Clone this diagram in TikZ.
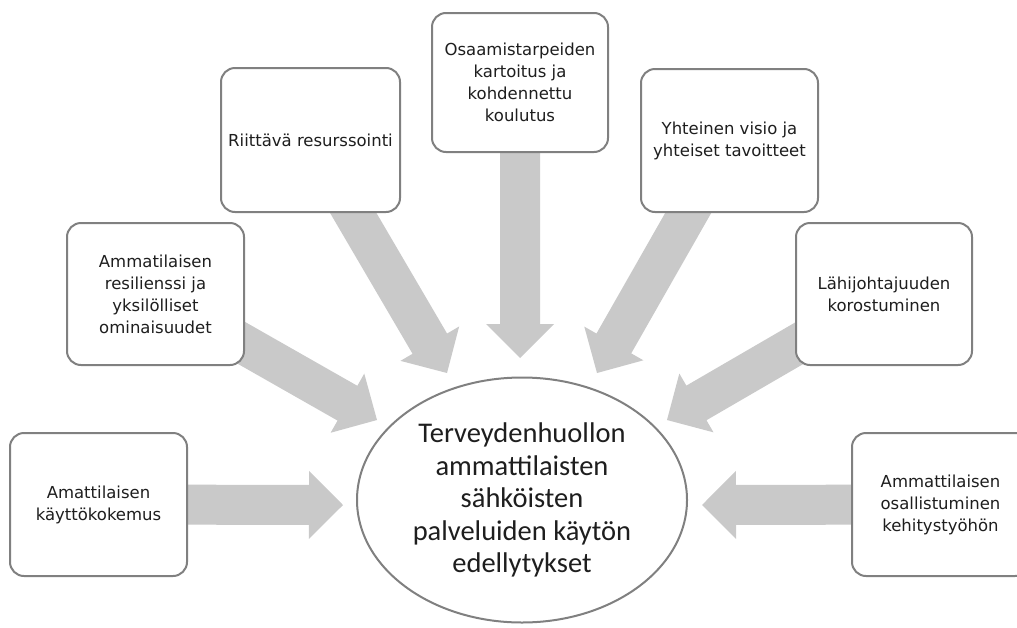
\documentclass[tikz,border=0pt]{standalone}
\usepackage{fontspec}
\setmainfont{DejaVu Sans}
\newfontfamily\ellfont{Carlito}
\usetikzlibrary{calc,shapes.geometric}
\pgfdeclarelayer{bottom}
\pgfdeclarelayer{background}
\pgfsetlayers{bottom,background,main}
\definecolor{arrowgray}{HTML}{C9C9C9}
\definecolor{boxgray}{HTML}{808080}
\definecolor{txt}{HTML}{1E1E1E}
% block arrow from #1 (start) to #2 (tip)
\newcommand\blockarrow[2]{%
  \fill[arrowgray]
    ($(#1)!20pt!90:(#2)$) --
    ($($(#2)!34pt!(#1)$)!20pt!90:(#2)$) --
    ($($(#2)!34pt!(#1)$)!34pt!90:(#2)$) --
    (#2) --
    ($($(#2)!34pt!(#1)$)!34pt!-90:(#2)$) --
    ($($(#2)!34pt!(#1)$)!20pt!-90:(#2)$) --
    ($(#1)!20pt!-90:(#2)$) -- cycle;}
\begin{document}
\begin{tikzpicture}[x=1pt,y=-1pt,
  box/.style={draw=boxgray, line width=2pt, rounded corners=14pt, fill=white,
    minimum width=177pt, minimum height=143pt, inner sep=0pt, align=center,
    text=txt, font=\fontsize{16.5}{22}\selectfont},
  goal/.style={ellipse, draw=boxgray, line width=2pt, fill=white,
    minimum width=330pt, minimum height=245pt, inner sep=0pt, align=center,
    text=txt, font=\ellfont\fontsize{28.5}{32.5}\selectfont}]
\useasboundingbox (0,0) rectangle (1017,627);
\clip (0,0) rectangle (1017,627);
\begin{pgfonlayer}{bottom}
  \fill[white] (0,0) rectangle (1017,627);
\end{pgfonlayer}

\node[box] (b1) at (98.5,504.5) {Amattilaisen\\käyttökokemus};
\node[box, minimum height=142pt] (b2) at (155.5,294) {Ammatilaisen\\resilienssi ja\\yksilölliset\\ominaisuudet};
\node[box, minimum width=179pt, minimum height=144pt] (b3) at (310.5,140) {Riittävä resurssointi};
\node[box, minimum width=176pt, minimum height=139pt] (b4) at (520,82.5) {Osaamistarpeiden\\kartoitus ja\\kohdennettu\\koulutus};
\node[box] (b5) at (729.5,140.5) {Yhteinen visio ja\\yhteiset tavoitteet};
\node[box, minimum width=176pt, minimum height=142pt] (b6) at (884,294) {Lähijohtajuuden\\korostuminen};
\node[box] (b7) at (940.5,504.5) {Ammattilaisen\\osallistuminen\\kehitystyöhön};

\node[goal] (c) at (522,500) {Terveydenhuollon\\ammattilaisten\\sähköisten\\palveluiden käytön\\edellytykset};

\coordinate (t1) at (343,505);
\coordinate (t2) at (377,420);
\coordinate (t3) at (447,373);
\coordinate (t4) at (520,358);
\coordinate (t5) at (597,373);
\coordinate (t6) at (667,420);
\coordinate (t7) at (702,505);

\begin{pgfonlayer}{background}
  \blockarrow{b1.center}{t1}
  \blockarrow{b2.center}{t2}
  \blockarrow{b3.center}{t3}
  \blockarrow{b4.center}{t4}
  \blockarrow{b5.center}{t5}
  \blockarrow{b6.center}{t6}
  \blockarrow{b7.center}{t7}
\end{pgfonlayer}
\end{tikzpicture}
\end{document}
